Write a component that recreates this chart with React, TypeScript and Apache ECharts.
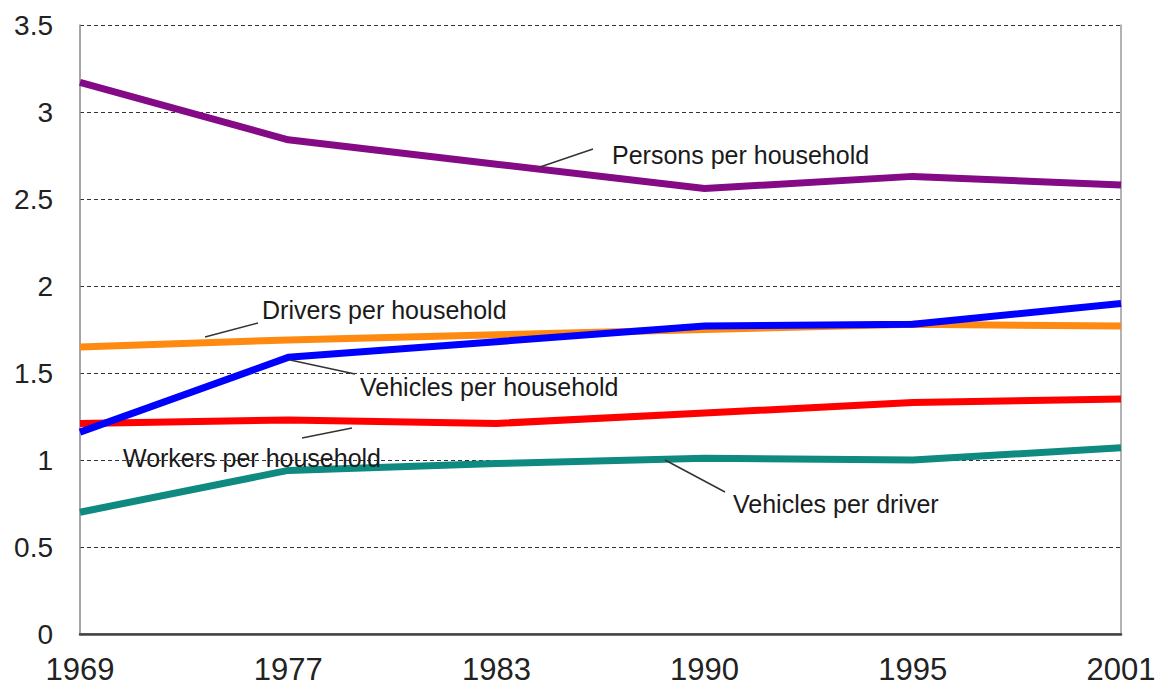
import React, { useEffect, useRef } from "react";
import * as echarts from "echarts";

const years = ["1969", "1977", "1983", "1990", "1995", "2001"];
const persons = [3.17, 2.84, 2.7, 2.56, 2.63, 2.58];
const drivers = [1.65, 1.69, 1.72, 1.75, 1.78, 1.77];
const vehiclesPerHousehold = [1.16, 1.59, 1.68, 1.77, 1.78, 1.9];
const workers = [1.21, 1.23, 1.21, 1.27, 1.33, 1.35];
const vehiclesPerDriver = [0.7, 0.94, 0.98, 1.01, 1.0, 1.07];

const FONT = "'Liberation Sans', Arial, sans-serif";

export default function App() {
  const ref = useRef<HTMLDivElement>(null);
  useEffect(() => {
    if (!ref.current) return;
    const chart = echarts.init(ref.current, null, { renderer: "svg" });
    const label = (text: string, x: number, y: number) => ({
      type: "text",
      x,
      y,
      z: 100,
      style: {
        text,
        fill: "#1a1a1a",
        font: `25px ${FONT}`,
        textVerticalAlign: "middle",
        textAlign: "left",
      },
    });
    const leader = (x1: number, y1: number, x2: number, y2: number) => ({
      type: "line",
      z: 100,
      shape: { x1, y1, x2, y2 },
      style: { stroke: "#333", lineWidth: 1.5 },
    });
    const line = (name: string, data: number[], color: string, z: number) => ({
      name,
      type: "line",
      data,
      showSymbol: false,
      symbol: "none",
      z,
      lineStyle: { color, width: 7 },
    });
    chart.setOption({
      animation: false,
      backgroundColor: "#fff",
      grid: { left: 80, right: 40, top: 25, bottom: 52, show: false },
      xAxis: [
        {
          type: "category",
          data: years,
          boundaryGap: false,
          axisLine: { show: true, lineStyle: { color: "#888", width: 2 } },
          axisTick: { show: false },
          axisLabel: {
            interval: 0,
            fontSize: 31,
            color: "#222",
            fontFamily: FONT,
            margin: 20,
          },
          splitLine: { show: false },
        },
        {
          type: "category",
          data: years,
          position: "top",
          boundaryGap: false,
          axisLine: { show: true, lineStyle: { color: "#444", width: 2.5 } },
          axisTick: { show: false },
          axisLabel: { show: false },
        },
      ],
      yAxis: [
        {
          type: "value",
          min: 0,
          max: 3.5,
          interval: 0.5,
          axisLine: { show: true, lineStyle: { color: "#888", width: 1.5 } },
          axisTick: { show: false },
          axisLabel: {
            fontSize: 28,
            color: "#222",
            fontFamily: FONT,
            margin: 27,
          },
          splitLine: {
            show: true,
            lineStyle: { color: "#333", type: [4, 3], width: 1 },
          },
        },
        {
          type: "value",
          min: 0,
          max: 3.5,
          interval: 0.5,
          position: "right",
          axisLine: { show: true, lineStyle: { color: "#999", width: 1.5 } },
          axisTick: { show: false },
          axisLabel: { show: false },
          splitLine: { show: false },
        },
      ],
      series: [
        line("Vehicles per driver", vehiclesPerDriver, "#0f8a80", 2),
        line("Workers per household", workers, "#ff0000", 3),
        line("Drivers per household", drivers, "#ff8a12", 4),
        line("Vehicles per household", vehiclesPerHousehold, "#0000ff", 5),
        line("Persons per household", persons, "#850a85", 6),
      ],
      graphic: [
        leader(540, 167, 593, 149),
        label("Persons per household", 612, 155),
        leader(205, 337, 258, 323),
        label("Drivers per household", 262, 310),
        leader(290, 360, 355, 374),
        label("Vehicles per household", 360, 387),
        leader(302, 438, 352, 428),
        label("Workers per household", 123, 458),
        leader(665, 460, 725, 492),
        label("Vehicles per driver", 733, 504),
      ],
    });
    return () => chart.dispose();
  }, []);
  return (
    <div
      ref={ref}
      style={{ position: "absolute", left: 0, top: 0, width: 1161, height: 686 }}
    />
  );
}
